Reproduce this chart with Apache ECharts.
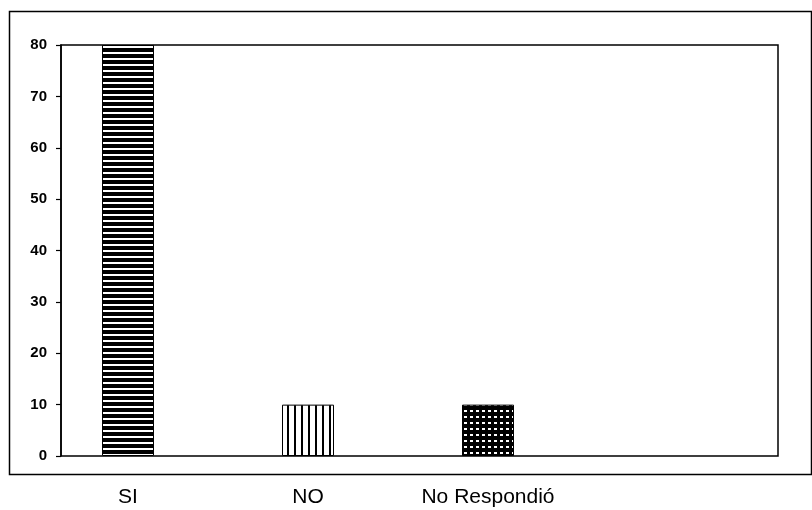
<!DOCTYPE html>
<html>
<head>
<meta charset="utf-8">
<script src="https://cdn.jsdelivr.net/npm/echarts@6/dist/echarts.min.js"></script>
<style>
html,body{margin:0;padding:0;background:#fff;}
#chart{width:812px;height:510px;}
</style>
</head>
<body>
<div id="chart"></div>
<script>
// ---- data ----
const categories = ['SI', 'NO', 'No Respondió'];
const values = [80, 10, 10];
const yTicks = [0, 10, 20, 30, 40, 50, 60, 70, 80];

// ---- fill patterns (style only) ----
function makePattern(kind) {
  const c = document.createElement('canvas');
  const ctx = c.getContext('2d');
  if (kind === 'h') {            // horizontal stripes
    c.width = 6; c.height = 6;
    ctx.fillStyle = '#000'; ctx.fillRect(0, 0, 6, 6);
    ctx.fillStyle = '#fff'; ctx.fillRect(0, 4, 6, 2);
  } else if (kind === 'v') {     // vertical stripes
    c.width = 7; c.height = 7;
    ctx.fillStyle = '#fff'; ctx.fillRect(0, 0, 7, 7);
    ctx.fillStyle = '#000'; ctx.fillRect(0, 0, 2, 7);
  } else {                       // dense grid
    c.width = 6; c.height = 6;
    ctx.fillStyle = '#000'; ctx.fillRect(0, 0, 6, 6);
    ctx.fillStyle = '#fff'; ctx.fillRect(2, 2, 3, 2);
  }
  return { image: c, repeat: 'repeat' };
}
const patterns = [makePattern('h'), makePattern('v'), makePattern('g')];

const FONT = '"Liberation Sans", Arial, sans-serif';
const chart = echarts.init(document.getElementById('chart'), null, { renderer: 'canvas' });

chart.setOption({
  backgroundColor: '#fff',
  animation: false,
  graphic: [{
    type: 'rect',
    left: 7, top: 9,
    shape: { width: 802, height: 463 },
    style: { fill: 'none', stroke: '#000', lineWidth: 1.5 },
    silent: true
  }],
  grid: [
    { left: 61, right: 34, top: 45, bottom: 54, show: true, borderColor: '#000', borderWidth: 1.5, backgroundColor: 'transparent' },
    { left: 38, right: 234, top: 45, bottom: 54 }
  ],
  xAxis: [
    { gridIndex: 0, type: 'value', min: 0, max: 1, show: false },
    {
      gridIndex: 1, type: 'category', data: categories,
      axisLine: { show: false }, axisTick: { show: false },
      axisLabel: { margin: 31, fontFamily: FONT, fontSize: 21, color: '#000' }
    }
  ],
  yAxis: [
    {
      gridIndex: 0, type: 'value', min: yTicks[0], max: yTicks[yTicks.length - 1], interval: yTicks[1] - yTicks[0],
      axisLine: { show: true, lineStyle: { color: '#000', width: 1.5 } },
      axisTick: { show: true, length: 5, lineStyle: { color: '#000', width: 1.2 } },
      splitLine: { show: false },
      axisLabel: { margin: 14, fontFamily: FONT, fontSize: 15, fontWeight: 'bold', color: '#000' }
    },
    { gridIndex: 1, type: 'value', min: yTicks[0], max: yTicks[yTicks.length - 1], show: false }
  ],
  series: [{
    type: 'bar',
    xAxisIndex: 1, yAxisIndex: 1,
    barWidth: 52,
    data: values.map((v, i) => ({
      value: v,
      itemStyle: { color: patterns[i], borderColor: '#000', borderWidth: 1 }
    }))
  }]
});
</script>
</body>
</html>
